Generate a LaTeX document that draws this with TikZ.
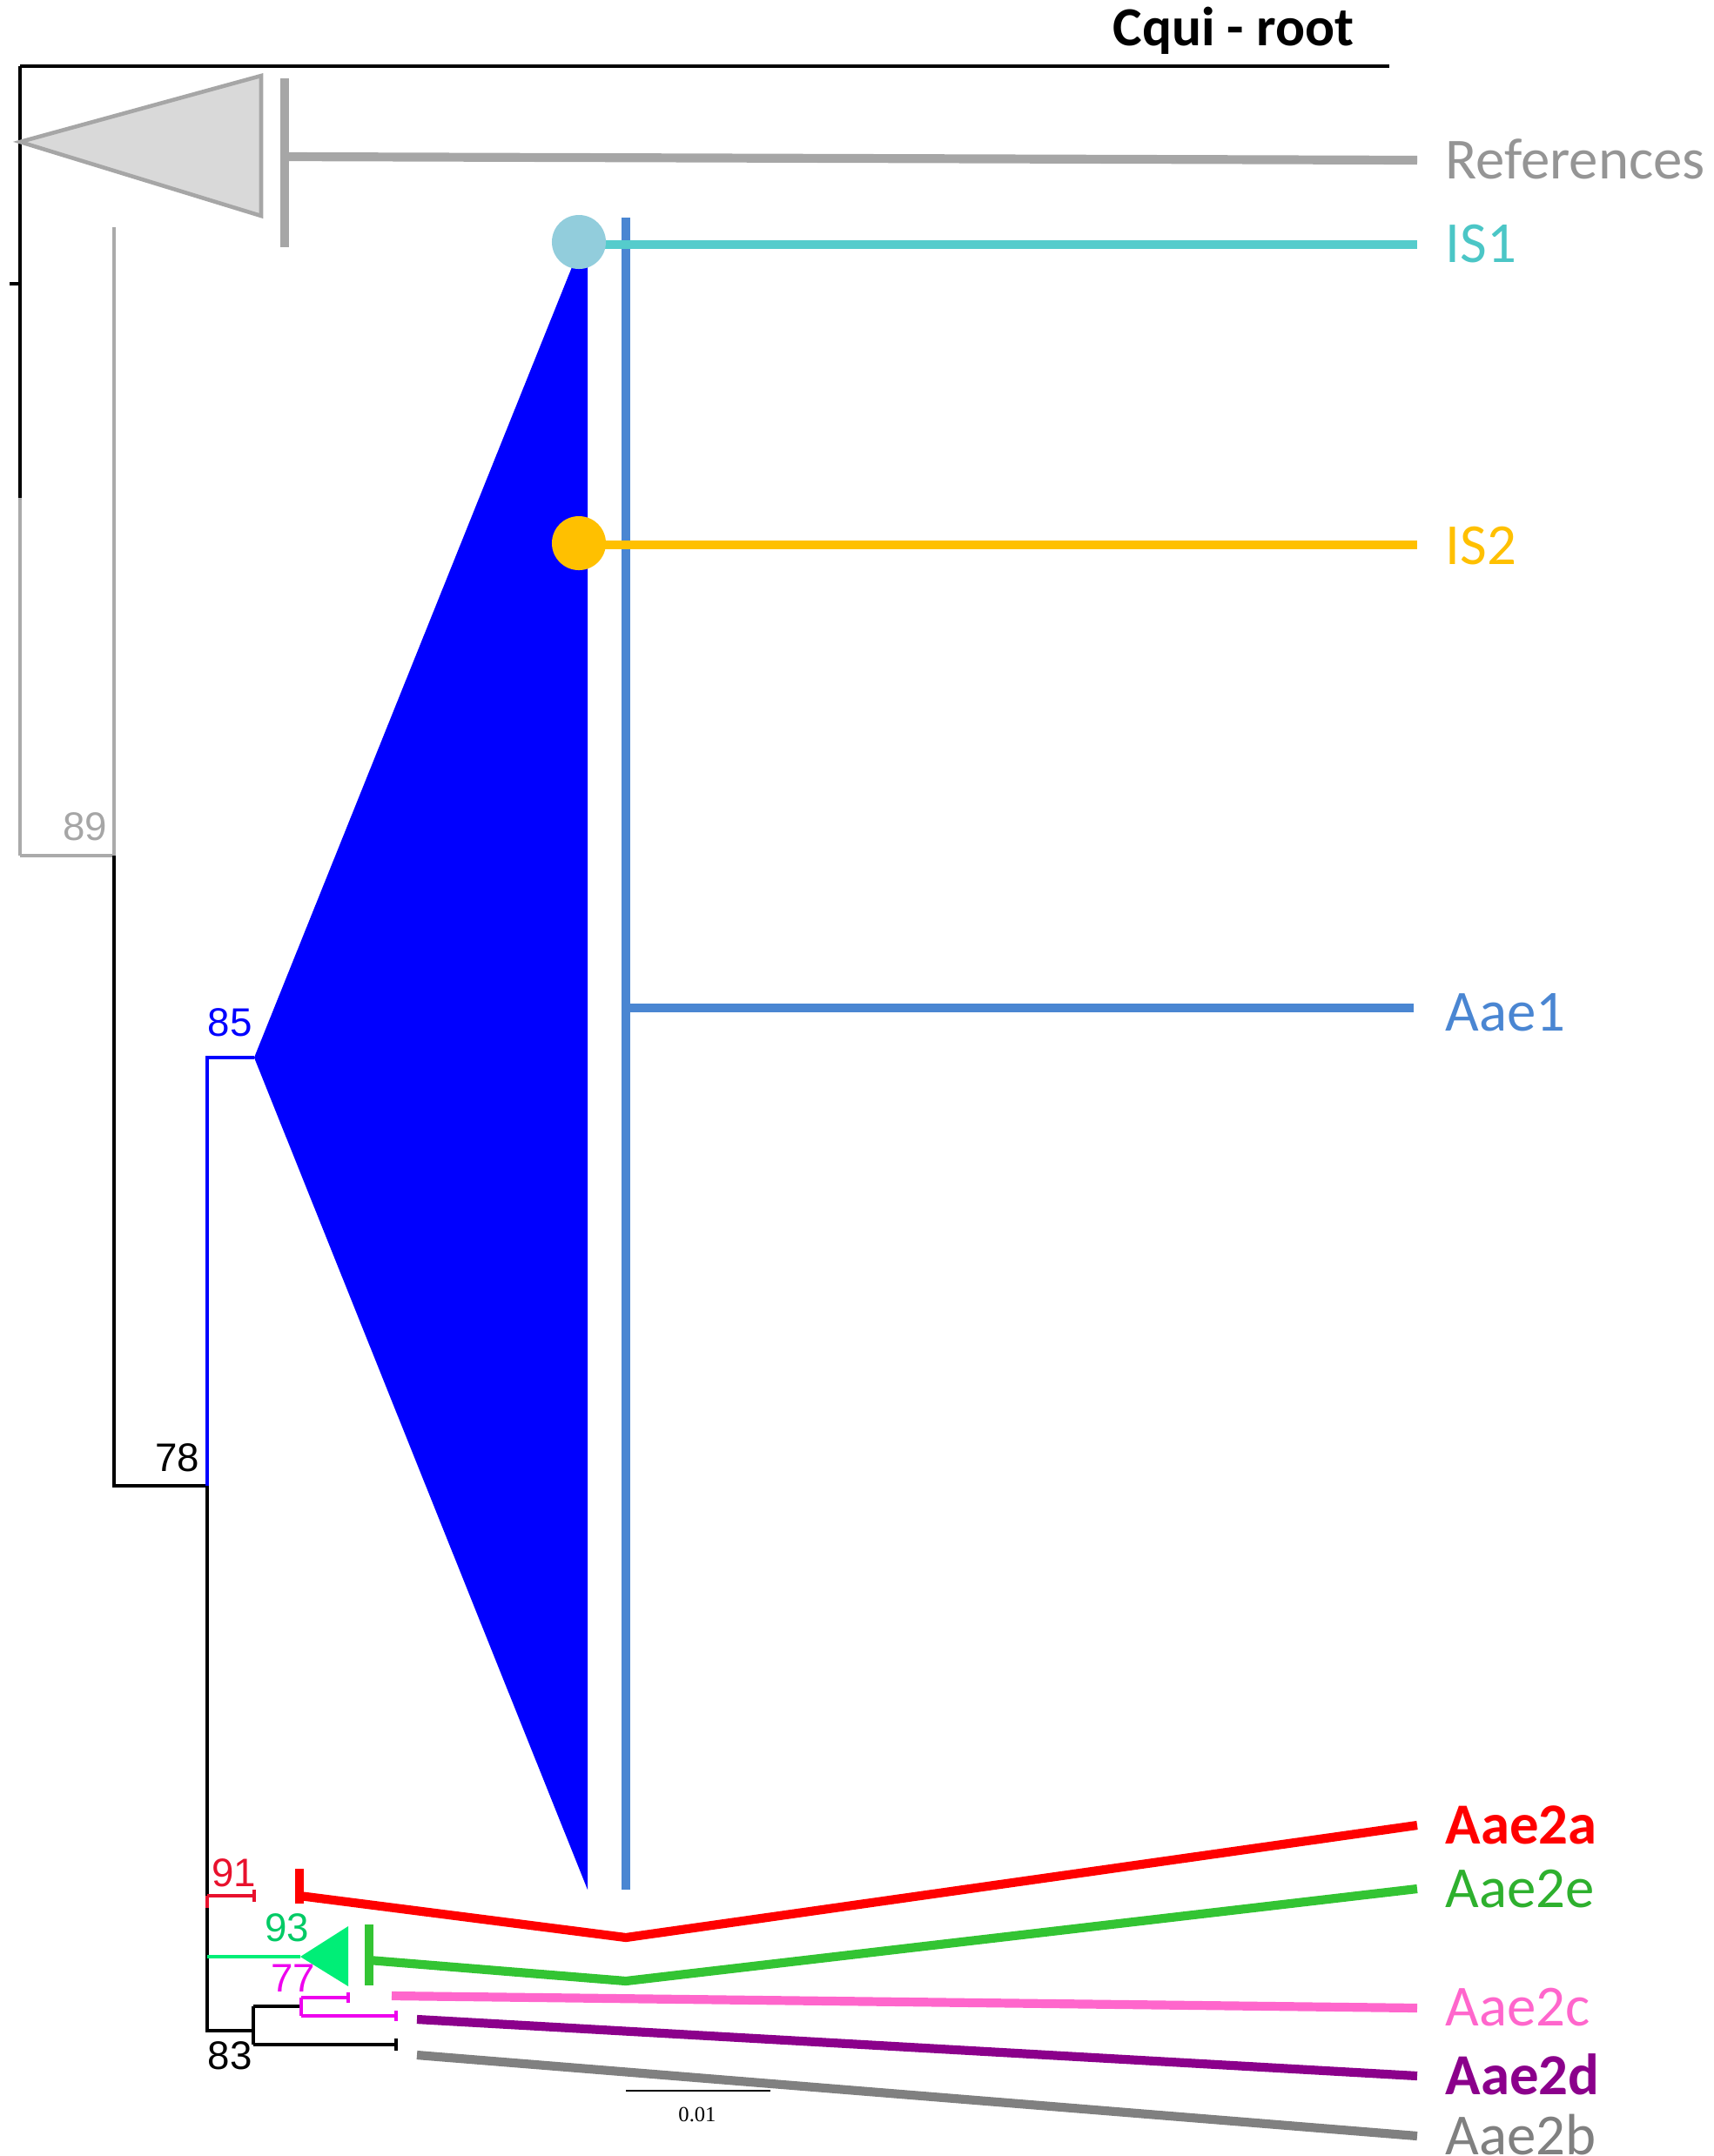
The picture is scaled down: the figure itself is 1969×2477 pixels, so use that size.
\documentclass[tikz,border=0pt]{standalone}
\usepackage{fontspec}
\setmainfont{Carlito}
\newfontfamily\numfont{Liberation Sans}
\newfontfamily\barfont{Liberation Serif}
\definecolor{refgray}{HTML}{A6A6A6}
\definecolor{trigray}{HTML}{D9D9D9}
\definecolor{thingray}{HTML}{AAAAAA}
\definecolor{tealc}{HTML}{55CCCC}
\definecolor{tealtext}{HTML}{4BC6C6}
\definecolor{lblue}{HTML}{92CDDC}
\definecolor{orangec}{HTML}{FFC000}
\definecolor{aaeblue}{HTML}{4A86D2}
\definecolor{redc}{HTML}{FF0000}
\definecolor{crimsonc}{HTML}{E8112D}
\definecolor{greenc}{HTML}{33C433}
\definecolor{sgreen}{HTML}{00EE77}
\definecolor{pinkc}{HTML}{FF66CC}
\definecolor{magc}{HTML}{EE00EE}
\definecolor{purplec}{HTML}{8B008B}
\definecolor{dgray}{HTML}{808080}
\begin{document}
\begin{tikzpicture}[x=0.01cm,y=-0.01cm,
  thinbr/.style={line width=0.9pt},
  thickbr/.style={line width=2.9pt},
  leaf/.style={anchor=west, inner sep=0pt, font=\fontsize{19}{19}\selectfont},
  support/.style={inner sep=0pt, font=\numfont\fontsize{13}{13}\selectfont},
  dot/.style={circle, minimum size=0.62cm, inner sep=0pt}
]
\useasboundingbox (0,0) rectangle (1969,2477);

% ---------- title and root ----------
\node[anchor=base, inner sep=0pt, font=\bfseries\fontsize{18}{18}\selectfont] (title) at (1417,52) {Cqui - root};
\coordinate (rtop) at (23,76);
\coordinate (rtopend) at (1596,76);
\coordinate (rmid) at (23,572);
\coordinate (rbot) at (23,983);
\coordinate (rtick) at (23,326);
\coordinate (rtickend) at (11,326);
\draw[line width=1.2pt] (rtop) -- (rtopend);
\draw[line width=1.1pt] (rtop) -- (rmid);
\draw[line width=1.1pt] (rtick) -- (rtickend);
\draw[thinbr, thingray] (rmid) -- (rbot);

% ---------- References (collapsed) ----------
\coordinate (refapex) at (23,163);
\draw[fill=trigray, draw=refgray, line width=1.3pt] (refapex) -- (300,87) -- (300,248) -- cycle;
\coordinate (refbartop) at (327,90);
\coordinate (refbarbot) at (327,284);
\draw[thickbr, refgray] (refbartop) -- (refbarbot);
\coordinate (refstart) at (327,180);
\node[leaf, text=refgray!90!black] (References) at (1660,183) {References};
\coordinate (refend) at (1628,184);
\draw[thickbr, refgray] (refstart) -- (refend);

% ---------- node 89 ----------
\coordinate (n89) at (131,983);
\coordinate (n89top) at (131,261);
\draw[thinbr, thingray] (rbot) -- (n89) -- (n89top);
\node[support, text=refgray, anchor=south east] (l89) at (124,967) {89};

% ---------- node 78 ----------
\coordinate (n78) at (131,1707);
\coordinate (n78b) at (238,1707);
\draw[thinbr] (n89) -- (n78) -- (n78b);
\node[support, anchor=south east] (l78) at (230,1692) {78};

% ---------- node 85 / Aae1 clade ----------
\coordinate (n85) at (238,1215);
\coordinate (n85apex) at (292,1215);
\draw[thinbr, blue] (n78b) -- (n85) -- (n85apex);
\node[support, text=blue, anchor=south west] (l85) at (238,1192) {85};
\fill[blue] (n85apex) -- (667,282) -- (675,282) -- (675,2171) -- cycle;

\coordinate (aaebartop) at (719,250);
\coordinate (aaebarbot) at (719,2171);
\draw[thickbr, aaeblue] (aaebartop) -- (aaebarbot);

% IS1
\coordinate (is1start) at (665,281);
\coordinate (is1end) at (1628,281);
\draw[thickbr, tealc] (is1start) -- (is1end);
\node[dot, fill=lblue] (c1) at (665,278) {};
\node[leaf, text=tealtext] (IS1) at (1660,280) {IS1};

% IS2
\coordinate (is2start) at (665,626);
\coordinate (is2end) at (1628,626);
\draw[thickbr, orangec] (is2start) -- (is2end);
\node[dot, fill=orangec] (c2) at (665,624) {};
\node[leaf, text=orangec] (IS2) at (1660,627) {IS2};

% Aae1
\coordinate (aae1start) at (719,1158);
\coordinate (aae1end) at (1624,1158);
\draw[thickbr, aaeblue] (aae1start) -- (aae1end);
\node[leaf, text=aaeblue] (Aae1) at (1660,1163) {Aae1};

% ---------- lower main stem ----------
\coordinate (n91) at (238,2178);
\coordinate (n91b) at (238,2192);
\coordinate (n93) at (238,2248);
\coordinate (n83) at (238,2333);
\coordinate (n83b) at (291,2333);
\draw[thinbr] (n78b) -- (n91);
\draw[thinbr, crimsonc] (n91) -- (n91b);
\draw[thinbr] (n91b) -- (n93) -- (n83) -- (n83b);
\node[support, anchor=north west] (l83) at (238,2345) {83};

% node 91 (Aae2a)
\coordinate (n91end) at (292,2178);
\draw[thinbr, crimsonc] (n91) -- (n91end);
\draw[thinbr, crimsonc] (292,2171) -- (292,2185);
\node[support, text=crimsonc, anchor=south] (l91) at (269,2169) {91};
\coordinate (aaeabar1) at (344,2147);
\coordinate (aaeabar2) at (344,2187);
\draw[thickbr, redc] (aaeabar1) -- (aaeabar2);
\coordinate (aaeastart) at (344,2178);
\coordinate (aaeakink) at (719,2226);
\coordinate (aaeaend) at (1628,2097);
\draw[thickbr, redc, line join=miter] (aaeastart) -- (aaeakink) -- (aaeaend);
\node[leaf, text=redc, font=\bfseries\fontsize{19}{19}\selectfont] (Aae2a) at (1660,2097) {Aae2a};

% node 93 (Aae2e)
\coordinate (n93apex) at (345,2248);
\draw[thinbr, sgreen] (n93) -- (n93apex);
\fill[sgreen] (n93apex) -- (400,2213) -- (400,2282) -- cycle;
\node[support, text=sgreen!85!black, anchor=south] (l93) at (330,2232) {93};
\coordinate (aaeebar1) at (424,2211);
\coordinate (aaeebar2) at (424,2281);
\draw[thickbr, greenc] (aaeebar1) -- (aaeebar2);
\coordinate (aaeestart) at (424,2252);
\coordinate (aaeekink) at (719,2276);
\coordinate (aaeeend) at (1628,2170);
\draw[thickbr, greenc, line join=miter] (aaeestart) -- (aaeekink) -- (aaeeend);
\node[leaf, text=greenc!90!black] (Aae2e) at (1660,2170) {Aae2e};

% node 83 subtree
\coordinate (n83top) at (291,2305);
\coordinate (n83bot) at (291,2349);
\coordinate (n77) at (346,2305);
\coordinate (bend) at (455,2349);
\draw[thinbr] (n83top) -- (n83bot);
\draw[thinbr] (n83top) -- (n77);
\draw[thinbr] (n83bot) -- (bend);
\draw[thinbr] (455,2342) -- (455,2356);

% node 77
\coordinate (n77top) at (346,2295);
\coordinate (n77bot) at (346,2316);
\coordinate (cend) at (400,2295);
\coordinate (dend) at (455,2316);
\draw[thinbr, magc] (n77top) -- (n77bot);
\draw[thinbr, magc] (n77top) -- (cend);
\draw[thinbr, magc] (n77bot) -- (dend);
\draw[thinbr, magc] (400,2289) -- (400,2301);
\draw[thinbr, magc] (455,2310) -- (455,2322);
\node[support, text=magc, anchor=south] (l77) at (337,2289) {77};

% Aae2c
\coordinate (aaecstart) at (450,2293);
\coordinate (aaecend) at (1628,2307);
\draw[thickbr, pinkc] (aaecstart) -- (aaecend);
\node[leaf, text=pinkc] (Aae2c) at (1660,2306) {Aae2c};

% Aae2d
\coordinate (aaedstart) at (479,2320);
\coordinate (aaedend) at (1628,2385);
\draw[thickbr, purplec] (aaedstart) -- (aaedend);
\node[leaf, text=purplec, font=\bfseries\fontsize{19}{19}\selectfont] (Aae2d) at (1660,2383) {Aae2d};

% Aae2b
\coordinate (aaebstart) at (479,2361);
\coordinate (aaebend) at (1628,2454);
\draw[thickbr, dgray] (aaebstart) -- (aaebend);
\node[leaf, text=dgray] (Aae2b) at (1660,2453) {Aae2b};

% ---------- scale bar ----------
\coordinate (sb1) at (719,2402);
\coordinate (sb2) at (885,2402);
\draw[line width=0.8pt] (sb1) -- (sb2);
\node[inner sep=0pt, font=\barfont\fontsize{7}{7}\selectfont] (sbl) at (801,2429) {0.01};
\end{tikzpicture}
\end{document}
